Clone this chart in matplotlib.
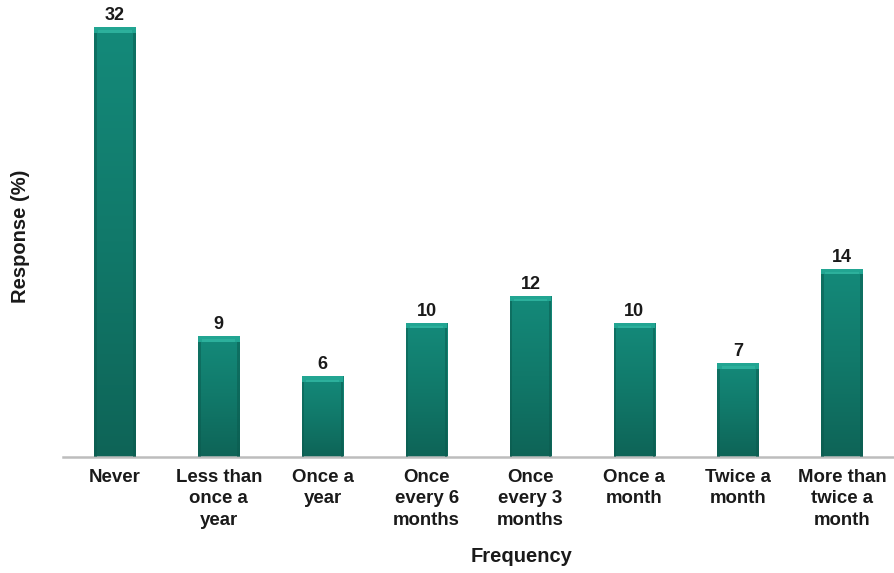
import numpy as np
import matplotlib
matplotlib.use("Agg")
import matplotlib.pyplot as plt
from matplotlib.colors import LinearSegmentedColormap

categories = ["Never", "Less than\nonce a\nyear", "Once a\nyear", "Once\nevery 6\nmonths",
              "Once\nevery 3\nmonths", "Once a\nmonth", "Twice a\nmonth", "More than\ntwice a\nmonth"]
responses = [32, 9, 6, 10, 12, 10, 7, 14]

plt.rcParams['font.family'] = ['Liberation Sans', 'DejaVu Sans']

fig = plt.figure(figsize=(8.94, 5.73), dpi=100)
ax = fig.add_axes([0.0705, 0.2024, 0.9295, 0.7976])

bar_w = 0.40
x = np.arange(len(categories))
body_cmap = LinearSegmentedColormap.from_list("teal", ["#0e6457", "#11796a", "#148a7a"])

bars = ax.bar(x, responses, width=bar_w, color="none", edgecolor="none", zorder=2)
for rect, v in zip(bars, responses):
    x0 = rect.get_x()
    w = rect.get_width()
    h = rect.get_height()
    grad = np.linspace(0, 1, 256).reshape(-1, 1)
    im = ax.imshow(grad, cmap=body_cmap, origin="lower", aspect="auto",
                   extent=[x0, x0 + w, 0, h], zorder=2)
    im.set_clip_path(rect)
    # darker side edges
    ax.add_patch(plt.Rectangle((x0, 0), w * 0.06, h, color="#0b5a4e", alpha=0.5, lw=0, zorder=3))
    ax.add_patch(plt.Rectangle((x0 + w * 0.94, 0), w * 0.06, h, color="#0b5a4e", alpha=0.5, lw=0, zorder=3))
    # bevelled highlight on top
    ax.add_patch(plt.Rectangle((x0, h - 0.42), w, 0.42, color="#22a592", lw=0, zorder=3))
    ax.add_patch(plt.Rectangle((x0 + w * 0.1, h - 0.42), w * 0.8, 0.18, color="#2cb09c", lw=0, zorder=3))
    ax.text(rect.get_x() + w / 2, h + 0.22, f"{v}", ha="center", va="bottom",
            fontsize=13, fontweight="bold", color="#1a1a1a")

ax.set_xlim(-0.5, 7.5)
ax.set_ylim(0, 34)
for s in ["top", "right", "left"]:
    ax.spines[s].set_visible(False)
ax.spines["bottom"].set_color("#bdbdbd")
ax.spines["bottom"].set_linewidth(1.8)
ax.set_yticks([])
ax.set_xticks(x)
ax.set_xticklabels(categories, fontsize=13.4, fontweight="bold", color="#1a1a1a",
                   linespacing=1.34)
ax.tick_params(axis="x", length=0, pad=8.5)

fig.text(522 / 894, 1 - 557 / 573, "Frequency", ha="center", va="center",
         fontsize=14.5, fontweight="bold", color="#1a1a1a")
fig.text(21 / 894, 1 - 236 / 573, "Response (%)", rotation=90, ha="center", va="center",
         fontsize=14.5, fontweight="bold", color="#1a1a1a")

fig.savefig("out.png", dpi=100)
